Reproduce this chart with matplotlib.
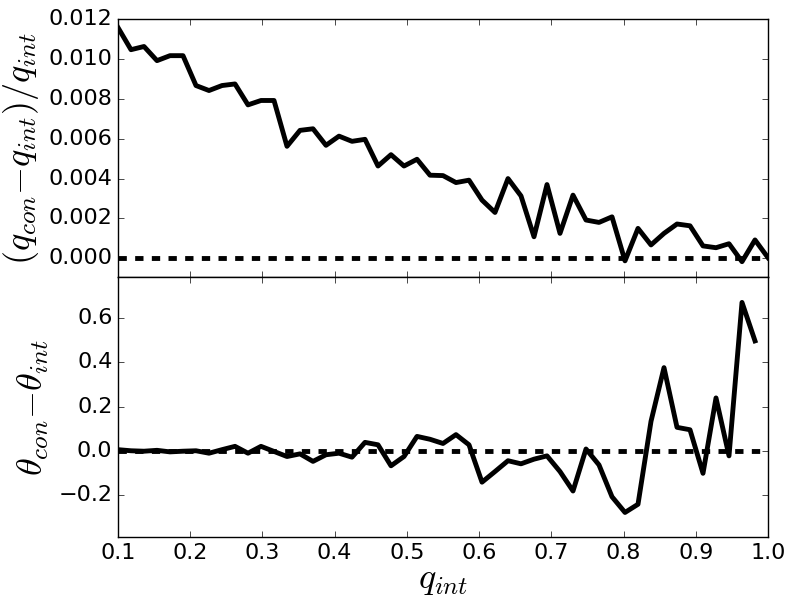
import numpy as np
import matplotlib
matplotlib.use("Agg")
from matplotlib import pyplot as plt

plt.style.use("classic")
plt.rcParams["mathtext.fontset"] = "cm"

# q_int grid
q_int = np.linspace(0.1, 1.0, 51)

# (q_con - q_int)/q_int
dq = [0.01158, 0.01047, 0.01063, 0.00992, 0.01017, 0.01017, 0.00867, 0.00842,
      0.00867, 0.00875, 0.00770, 0.00792, 0.00792, 0.00562, 0.00642, 0.00650,
      0.00567, 0.00613, 0.00587, 0.00597, 0.00463, 0.00520, 0.00463, 0.00497,
      0.00417, 0.00415, 0.00380, 0.00392, 0.00292, 0.00230, 0.00400, 0.00313,
      0.00108, 0.00370, 0.00125, 0.00317, 0.00192, 0.00180, 0.00208, -0.00013,
      0.00150, 0.00067, 0.00125, 0.00172, 0.00163, 0.00062, 0.00053, 0.00073,
      -0.00017, 0.00092, 0.00003]

# theta_con - theta_int (no value at q_int = 1)
dtheta = [0.005, 0.0, -0.002, 0.002, -0.005, -0.002, 0.0, -0.011, 0.005, 0.020,
          -0.011, 0.020, -0.003, -0.026, -0.014, -0.048, -0.018, -0.011, -0.029,
          0.038, 0.027, -0.068, -0.026, 0.065, 0.052, 0.033, 0.073, 0.027,
          -0.142, -0.094, -0.045, -0.059, -0.038, -0.023, -0.094, -0.182, 0.008,
          -0.064, -0.208, -0.279, -0.242, 0.133, 0.376, 0.106, 0.095, -0.102,
          0.239, -0.023, 0.671, 0.497]

fig = plt.figure(figsize=(8, 6), dpi=100, facecolor="white")
ax1 = fig.add_axes([0.1475, 0.538, 0.8125, 0.43])
ax2 = fig.add_axes([0.1475, 0.105, 0.8125, 0.433], sharex=ax1)

ax1.plot(q_int, dq, "k-", lw=3.5)
ax1.plot([0.1, 1.0], [0, 0], "k--", lw=3.5)
ax1.set_xlim(0.1, 1.0)
ax1.set_ylim(-0.00095, 0.012)
ax1.set_yticks(np.arange(0, 0.0121, 0.002))
ax1.set_ylabel(r"$(q_{con} {-} q_{int})/q_{int}$", fontsize=26)
plt.setp(ax1.get_xticklabels(), visible=False)

ax2.plot(q_int[:len(dtheta)], dtheta, "k-", lw=3.5)
ax2.plot([0.1, 1.0], [0, 0], "k--", lw=3.5)
ax2.set_ylim(-0.39, 0.785)
ax2.set_yticks([-0.2, 0.0, 0.2, 0.4, 0.6])
ax2.set_xticks(np.arange(0.1, 1.01, 0.1))
ax2.set_ylabel(r"$\theta_{con} {-} \theta_{int}$", fontsize=26)
ax2.set_xlabel(r"$q_{int}$", fontsize=26, labelpad=0)

for ax in (ax1, ax2):
    ax.tick_params(labelsize=16)

fig.savefig("out.png", dpi=100, facecolor="white")
